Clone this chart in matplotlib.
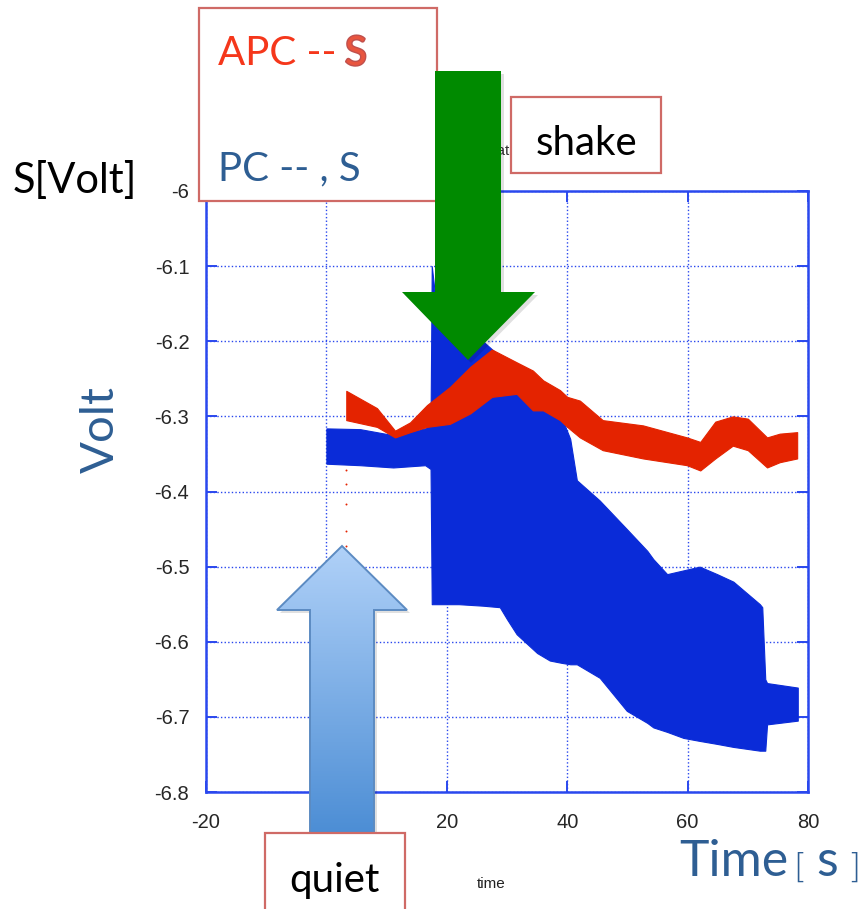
import numpy as np
import matplotlib
matplotlib.use("Agg")
import matplotlib.pyplot as plt
from matplotlib.patches import Polygon, Rectangle
from matplotlib.colors import LinearSegmentedColormap
import matplotlib.patheffects as pe

# ---- data: envelopes of the two recorded signals (time in s, voltage in V) ----
apc_time = [3.3, 8.4, 11.4, 13.9, 16.7, 20.5, 23.9, 27.5, 31.6, 34.3, 36.0, 38.8,
            40.0, 42.1, 45.9, 52.6, 59.9, 62.1, 64.6, 67.5, 70.0, 73.2, 75.3, 78.2]
apc_upper = [-6.266, -6.289, -6.319, -6.308, -6.285, -6.261, -6.234, -6.211, -6.228,
             -6.239, -6.252, -6.265, -6.274, -6.279, -6.305, -6.312, -6.328, -6.334,
             -6.307, -6.300, -6.303, -6.328, -6.323, -6.321]
apc_lower = [-6.305, -6.314, -6.328, -6.321, -6.314, -6.310, -6.296, -6.274, -6.270,
             -6.292, -6.292, -6.305, -6.314, -6.328, -6.345, -6.356, -6.365, -6.372,
             -6.356, -6.339, -6.345, -6.368, -6.361, -6.356]
# isolated APC samples at the start of the record
apc_stray_time = [3.3, 3.3, 3.3, 3.3, 3.3]
apc_stray_volt = [-6.372, -6.390, -6.417, -6.452, -6.472]

pc_time = [0.0, 5.6, 11.1, 16.4, 17.3, 17.5, 18.5, 22.0, 26.0, 28.8, 30.0, 31.6, 35.0,
           37.1, 39.0, 40.5, 41.6, 45.4, 49.9, 53.3, 54.3, 56.6, 59.3, 62.0, 64.9,
           67.6, 72.0, 72.4, 72.9, 73.2, 78.3]
pc_upper = [-6.316, -6.317, -6.325, -6.316, -6.310, -6.100, -6.170, -6.190, -6.200,
            -6.220, -6.240, -6.250, -6.270, -6.280, -6.300, -6.330, -6.385, -6.412,
            -6.450, -6.479, -6.490, -6.510, -6.505, -6.500, -6.510, -6.520, -6.550,
            -6.554, -6.650, -6.655, -6.661]
pc_lower = [-6.363, -6.365, -6.368, -6.365, -6.370, -6.550, -6.550, -6.550, -6.552,
            -6.554, -6.570, -6.590, -6.615, -6.625, -6.628, -6.630, -6.630, -6.648,
            -6.692, -6.708, -6.714, -6.720, -6.728, -6.732, -6.736, -6.740, -6.745,
            -6.745, -6.745, -6.710, -6.705]

x_ticks = [-20, 0, 20, 40, 60, 80]
x_tick_labels = ["-20", "0", "20", "40", "60", "80"]
y_ticks = [-6.8, -6.7, -6.6, -6.5, -6.4, -6.3, -6.2, -6.1, -6.0]
y_tick_labels = ["-6.8", "-6.7", "-6.6", "-6.5", "-6.4", "-6.3", "-6.2", "-6.1", "-6"]

# ---- styling ----
W, H = 863, 909
BLUE_DOTS = "#0A2BD8"
RED_DOTS = "#E42300"
AX_BLUE = "#2A48EE"
TXT_BLUE = "#2E5E93"
BOX_EDGE = "#CF6A66"
SANS = ["Lato", "DejaVu Sans"]
TICK_FONT = ["Liberation Sans", "DejaVu Sans"]

fig = plt.figure(figsize=(W / 100, H / 100), dpi=100)
fig.patch.set_facecolor("white")

left, right, top, bottom = 206, 808, 191, 792
ax = fig.add_axes([left / W, (H - bottom) / H, (right - left) / W, (bottom - top) / H])

ax.fill_between(pc_time, pc_lower, pc_upper, color=BLUE_DOTS, lw=0.8, zorder=3)
ax.fill_between(apc_time, apc_lower, apc_upper, color=RED_DOTS, lw=0.8, zorder=4)
ax.scatter(apc_stray_time, apc_stray_volt, s=2, color=RED_DOTS, lw=0, zorder=4)

ax.set_xlim(-20, 80)
ax.set_ylim(-6.8, -6.0)
ax.set_xticks(x_ticks)
ax.set_xticklabels(x_tick_labels)
ax.set_yticks(y_ticks)
ax.set_yticklabels(y_tick_labels)
ax.grid(True, color=AX_BLUE, linestyle=(0, (1, 1.6)), linewidth=1.0, zorder=1)
ax.set_axisbelow(True)
for s in ax.spines.values():
    s.set_color(AX_BLUE)
    s.set_linewidth(1.8)
ax.tick_params(direction="in", length=8, width=1.4, color=AX_BLUE,
               top=True, right=True, labelsize=14.5, labelcolor="#262626")
ax.tick_params(axis="y", pad=12)
ax.tick_params(axis="x", pad=15)
for lab in ax.get_xticklabels() + ax.get_yticklabels():
    lab.set_fontfamily(TICK_FONT)

# ---- overlay in pixel coordinates ----
ov = fig.add_axes([0, 0, 1, 1], zorder=10)
ov.set_xlim(0, W)
ov.set_ylim(H, 0)
ov.axis("off")
ov.patch.set_alpha(0)

# small plot title and axis caption
ov.text(503, 155, "data", fontsize=11, color="#333333", ha="center", va="baseline",
        family=TICK_FONT, zorder=1)
ov.text(491, 888, "time", fontsize=11, color="#222222", ha="center", va="baseline",
        family=TICK_FONT, zorder=1)

# large labels
ov.text(13, 193, "S[Volt]", fontsize=30, color="black", ha="left", va="baseline", family=SANS)
ov.text(101, 465, "Volt", fontsize=34, color=TXT_BLUE, ha="center", va="baseline",
        rotation=90, family=SANS)
ov.text(679, 876, "Time", fontsize=36, color=TXT_BLUE, ha="left", va="baseline", family=SANS)
ov.text(800, 878, "[", fontsize=24, color=TXT_BLUE, ha="center", va="baseline",
        family=["DejaVu Sans"], fontweight="light")
ov.text(827, 876, "s", fontsize=36, color=TXT_BLUE, ha="center", va="baseline", family=SANS)
ov.text(854, 878, "]", fontsize=24, color=TXT_BLUE, ha="center", va="baseline",
        family=["DejaVu Sans"], fontweight="light")

# legend box
ov.add_patch(Rectangle((199, 8), 238, 193, facecolor="white", edgecolor=BOX_EDGE,
                       lw=1.6, zorder=2))
ov.text(218, 65, "APC -- ", fontsize=29, color="#F5371B", ha="left", va="baseline",
        family=SANS, zorder=3)
ov.text(345, 65, "S", fontsize=29, color="#E8553F", ha="left", va="baseline", family=SANS,
        zorder=3, path_effects=[pe.withStroke(linewidth=2.0, foreground="#C0504D")])
ov.text(218, 180, "PC -- , S", fontsize=29, color=TXT_BLUE, ha="left", va="baseline",
        family=SANS, zorder=3)

# "shake" box
ov.add_patch(Rectangle((511, 97), 150, 76, facecolor="white", edgecolor=BOX_EDGE,
                       lw=1.6, zorder=2))
ov.text(586, 155, "shake", fontsize=29, color="black", ha="center", va="baseline",
        family=SANS, zorder=3)

# green arrow (downwards)
green_pts = [(435, 71), (501, 71), (501, 292), (535, 292), (468, 360),
             (402, 292), (435, 292)]
ov.add_patch(Polygon([(x + 3, y + 3) for x, y in green_pts], closed=True,
                     facecolor="#000000", alpha=0.12, lw=0, zorder=4))
ov.add_patch(Polygon(green_pts, closed=True, facecolor="#008A00", edgecolor="none", zorder=5))

# blue arrow (upwards) with vertical gradient
blue_pts = [(342, 546), (407, 610), (374, 610), (374, 840), (310, 840),
            (310, 610), (277, 610)]
ov.add_patch(Polygon([(x + 3, y + 3) for x, y in blue_pts], closed=True,
                     facecolor="#000000", alpha=0.12, lw=0, zorder=4))
arrow_poly = Polygon(blue_pts, closed=True, facecolor="none", edgecolor="#5C8BC2",
                     lw=1.4, zorder=6)
ov.add_patch(arrow_poly)
grad_cmap = LinearSegmentedColormap.from_list("arrowgrad", ["#B0D1F8", "#4A8CD4"])
grad = np.linspace(0, 1, 256).reshape(-1, 1)
im = ov.imshow(grad, extent=(277, 407, 840, 546), aspect="auto", cmap=grad_cmap,
               origin="upper", zorder=5)
im.set_clip_path(arrow_poly)

# "quiet" box
ov.add_patch(Rectangle((265, 833), 140, 90, facecolor="white", edgecolor=BOX_EDGE,
                       lw=1.6, zorder=7))
ov.text(334, 892, "quiet", fontsize=29, color="black", ha="center", va="baseline",
        family=SANS, zorder=8)

ov.set_xlim(0, W)
ov.set_ylim(H, 0)

fig.savefig("out.png", dpi=100)
